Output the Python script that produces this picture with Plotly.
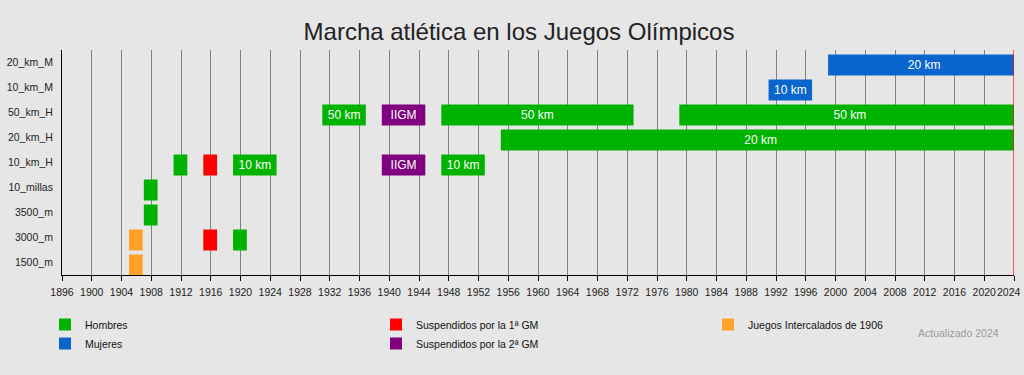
import plotly.graph_objects as go

# ---- data ----
categories = ["1500_m", "3000_m", "3500_m", "10_millas", "10_km_H",
              "20_km_H", "50_km_H", "10_km_M", "20_km_M"]
tick_years = list(range(1896, 2025, 4))

hombres_event = ["3500_m", "10_millas", "10_km_H", "3000_m", "10_km_H",
                 "50_km_H", "10_km_H", "50_km_H", "20_km_H", "50_km_H"]
hombres_start = [1908, 1908, 1912, 1920, 1920, 1932, 1948, 1948, 1956, 1980]
hombres_end = [1908, 1908, 1912, 1920, 1924, 1936, 1952, 1972, 2024, 2024]
hombres_label = ["", "", "", "", "10 km", "50 km", "10 km", "50 km", "20 km", "50 km"]

mujeres_event = ["10_km_M", "20_km_M"]
mujeres_start = [1992, 2000]
mujeres_end = [1996, 2024]
mujeres_label = ["10 km", "20 km"]

gm1_event = ["10_km_H", "3000_m"]
gm1_start = [1916, 1916]
gm1_end = [1916, 1916]
gm1_label = ["", ""]

gm2_event = ["50_km_H", "10_km_H"]
gm2_start = [1940, 1940]
gm2_end = [1944, 1944]
gm2_label = ["IIGM", "IIGM"]

inter_event = ["1500_m", "3000_m"]
inter_start = [1906, 1906]
inter_end = [1906, 1906]
inter_label = ["", ""]

current_year = 2024

# ---- styling ----
FONT = "Liberation Sans, Arial, sans-serif"
BG = "#e6e6e6"
TICK_FONT = dict(size=10.5, color="#222222", family=FONT)

series = [
    ("Hombres", "#00b300", "legend", hombres_event, hombres_start, hombres_end, hombres_label),
    ("Mujeres", "#0a66cc", "legend", mujeres_event, mujeres_start, mujeres_end, mujeres_label),
    ("Suspendidos por la 1ª GM", "#ff0000", "legend2", gm1_event, gm1_start, gm1_end, gm1_label),
    ("Suspendidos por la 2ª GM", "#800080", "legend2", gm2_event, gm2_start, gm2_end, gm2_label),
    ("Juegos Intercalados de 1906", "#ffa02a", "legend3", inter_event, inter_start, inter_end, inter_label),
]

fig = go.Figure()
for name, color, leg, ev, st, en, lab in series:
    fig.add_trace(go.Bar(
        name=name,
        orientation="h",
        y=ev,
        base=[s - 1.0 for s in st],
        x=[e - s + 1.85 for s, e in zip(st, en)],
        width=0.84,
        marker=dict(color=color, line=dict(width=0)),
        text=lab,
        textposition="inside",
        insidetextanchor="middle",
        textangle=0,
        constraintext="none",
        textfont=dict(color="white", size=12, family=FONT),
        legend=leg,
        hoverinfo="skip",
    ))

fig.add_shape(type="line", xref="x", yref="paper", x0=current_year, x1=current_year,
              y0=0, y1=1, line=dict(color="#ff0000", width=1.2), layer="above")

fig.add_annotation(text="Actualizado 2024", xref="paper", yref="paper",
                   x=(1001 - 62) / 952, y=-(333 - 275) / 225, xanchor="right", yanchor="middle",
                   showarrow=False, font=dict(size=10.5, color="#999999", family=FONT))

# last year label: kept inside the page (right-aligned at the edge) as in the reference
tick_text = [str(y) for y in tick_years]
tick_text[-1] = ""
fig.add_annotation(text=str(tick_years[-1]), xref="x", yref="paper",
                   x=tick_years[-1], xshift=9, y=-(292 - 275) / 225,
                   xanchor="right", yanchor="middle", showarrow=False, font=TICK_FONT)

legend_common = dict(
    orientation="v", xref="container", yref="container", yanchor="top", xanchor="left",
    bgcolor="rgba(0,0,0,0)", font=dict(size=10.5, color="#111111", family=FONT),
    traceorder="normal", tracegroupgap=0, itemclick=False, itemdoubleclick=False,
)

fig.update_layout(
    width=1024, height=375,
    paper_bgcolor=BG, plot_bgcolor=BG,
    margin=dict(l=62, r=10, t=50, b=100, autoexpand=False),
    barmode="overlay",
    font=dict(family=FONT, size=11, color="#222222"),
    title=dict(text="Marcha atlética en los Juegos Olímpicos", x=519 / 1024, xanchor="center",
               y=1 - 32 / 375, yanchor="middle", font=dict(size=24, color="#222222", family=FONT)),
    xaxis=dict(range=[1896, 2024], tickmode="array", tickvals=tick_years,
               ticktext=tick_text, tickangle=0,
               showgrid=True, gridcolor="#808080", gridwidth=1,
               showline=True, linecolor="#000000", linewidth=1,
               ticks="outside", ticklen=5, tickcolor="#000000", automargin=False,
               ticklabelstandoff=2,
               tickfont=TICK_FONT, zeroline=False, fixedrange=True),
    yaxis=dict(type="category", categoryorder="array", categoryarray=categories,
               range=[-0.4, 8.6], showgrid=False, showline=True, linecolor="#000000", linewidth=1,
               ticks="", ticklabelstandoff=6, ticklabelshift=-3,
               tickfont=TICK_FONT, automargin=False,
               zeroline=False, fixedrange=True),
    showlegend=True,
    legend=dict(**legend_common, x=45 / 1024, y=1 - 310 / 375),
    legend2=dict(**legend_common, x=376 / 1024, y=1 - 310 / 375),
    legend3=dict(**legend_common, x=708 / 1024, y=1 - 310 / 375),
)

fig.write_html("out.html", config={"displayModeBar": False},
               post_script="document.body.style.margin='0';")
